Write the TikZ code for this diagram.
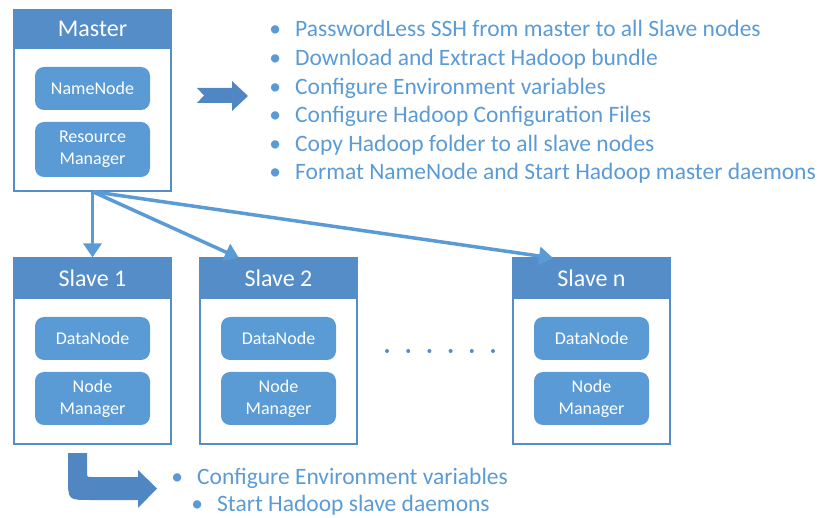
\documentclass[tikz,border=0pt]{standalone}
\usepackage{fontspec}
\setmainfont{Carlito}
\usetikzlibrary{arrows.meta}
\definecolor{hdr}{RGB}{84,141,200}
\definecolor{inb}{RGB}{91,155,213}
\definecolor{txt}{RGB}{91,155,213}
\definecolor{big}{RGB}{80,135,195}
\newcommand\bmark{\llap{\makebox[40pt]{\textbullet}}}
\tikzset{
 outerbox/.style={draw=hdr, line width=1.2pt, minimum width=157pt, minimum height=186pt, inner sep=0},
 header/.style={draw=hdr, line width=1.2pt, fill=hdr, minimum width=157pt, minimum height=40pt, inner sep=0, text=white, font=\fontsize{24}{28}\selectfont},
 innerbox/.style={fill=inb, rounded corners=9pt, minimum width=115pt, inner sep=0, text=white, align=center, font=\fontsize{18}{22}\selectfont},
 bul/.style={anchor=base west, inner sep=0, text=txt, font=\fontsize{23.5}{28}\selectfont},
 link/.style={draw=inb, line width=3.5pt, -{Triangle[length=14pt,width=18pt]}},
 bigarrow/.style={fill=big}
}
\begin{document}
\begin{tikzpicture}[x=1pt,y=-1pt]
\useasboundingbox (0,0) rectangle (822,518);
% Master
\node[outerbox, minimum height=181pt] (master) at (92.5,100.5) {};
\node[header, minimum height=38pt] (mhead) at (92.5,29) {Master};
\node[innerbox, minimum height=43pt] (nn) at (92.5,88.5) {NameNode};
\node[innerbox, minimum height=55pt] (rm) at (92.5,149.5) {Resource\\Manager};
% Slaves
\node[outerbox] (s1) at (92.5,351) {};
\node[header] (s1h) at (92.5,278) {Slave 1};
\node[innerbox, minimum height=43pt] (s1d) at (92.5,338.5) {DataNode};
\node[innerbox, minimum height=53pt] (s1n) at (92.5,398.5) {Node\\Manager};
\node[outerbox] (s2) at (278.5,351) {};
\node[header] (s2h) at (278.5,278) {Slave 2};
\node[innerbox, minimum height=43pt] (s2d) at (278.5,338.5) {DataNode};
\node[innerbox, minimum height=53pt] (s2n) at (278.5,398.5) {Node\\Manager};
\node[outerbox] (sn) at (591.5,351) {};
\node[header] (snh) at (591.5,278) {Slave n};
\node[innerbox, minimum height=43pt] (snd) at (591.5,338.5) {DataNode};
\node[innerbox, minimum height=53pt] (snn) at (591.5,398.5) {Node\\Manager};
% dots
\foreach \i in {0,...,5} \fill[hdr] (387+21.2*\i,351) circle (2pt);
% links
\coordinate (t2) at (239,258);
\coordinate (tn) at (553,258);
\draw[link] (master.south) -- (s1.north);
\draw[link] (master.south) -- (t2);
\draw[link] (master.south) -- (tn);
% big arrows
\fill[bigarrow] (197,88) -- (232,88) -- (232,81) -- (248,96) -- (232,111) -- (232,103) -- (197,103) -- (204,95.5) -- cycle;
\fill[bigarrow] (68,453) -- (68,478) .. controls (68,500) .. (90,500) -- (138,500) -- (138,508) -- (157,488.5) -- (138,470) -- (138,477) -- (92,477) .. controls (87,477) .. (87,472) -- (87,453) -- cycle;
% master list
\node[bul] (m1) at (295,37) {\bmark PasswordLess SSH from master to all Slave nodes};
\node[bul] (m2) at (295,65.6) {\bmark Download and Extract Hadoop bundle};
\node[bul] (m3) at (295,94.2) {\bmark Configure Environment variables};
\node[bul] (m4) at (295,122.8) {\bmark Configure Hadoop Configuration Files};
\node[bul] (m5) at (295,151.4) {\bmark Copy Hadoop folder to all slave nodes};
\node[bul] (m6) at (295,180) {\bmark Format NameNode and Start Hadoop master daemons};
% slave list
\node[bul] (l1) at (197,484) {\bmark Configure Environment variables};
\node[bul] (l2) at (217,511) {\bmark Start Hadoop slave daemons};
\end{tikzpicture}
\end{document}
